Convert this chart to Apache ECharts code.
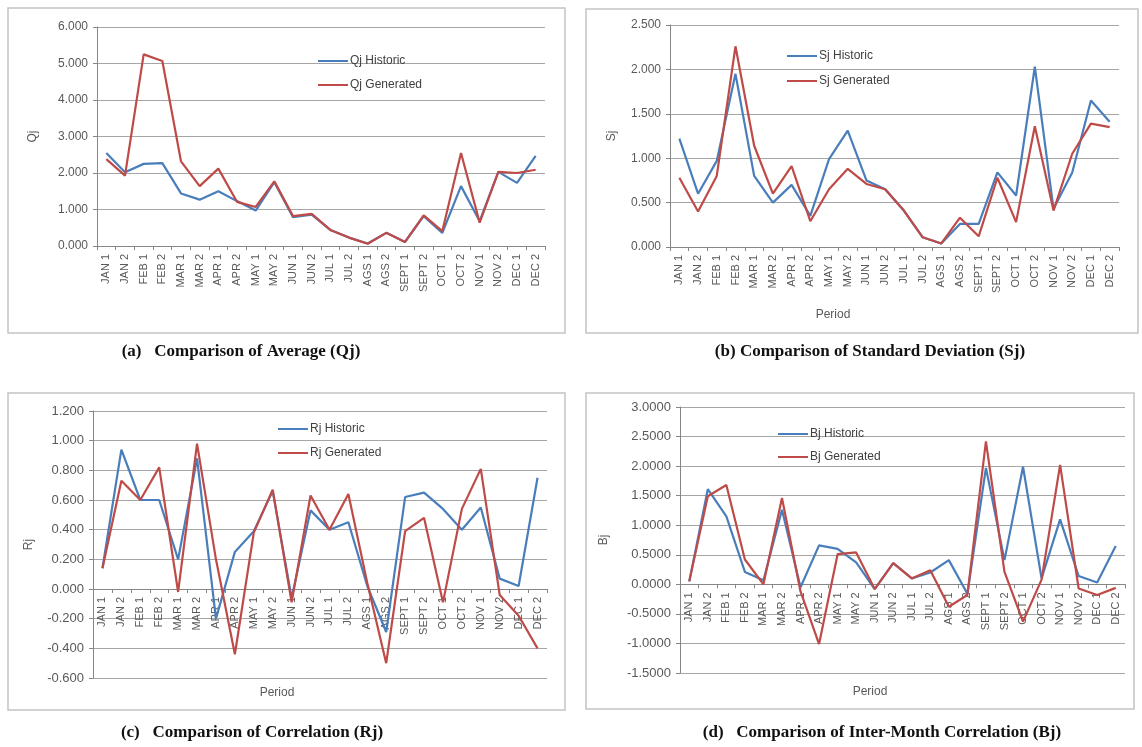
<!DOCTYPE html>
<html>
<head>
<meta charset="utf-8">
<title>Comparison of Qj, Sj, Rj, Bj</title>
<script src="https://cdn.jsdelivr.net/npm/echarts@6.0.0/dist/echarts.min.js"></script>
<style>
  html, body { margin: 0; padding: 0; background: #fff; }
  #chart { width: 1142px; height: 747px; }
</style>
</head>
<body>
<div id="chart"></div>
<script>
// half-month periods
const periods = ['JAN 1', 'JAN 2', 'FEB 1', 'FEB 2', 'MAR 1', 'MAR 2', 'APR 1', 'APR 2',
  'MAY 1', 'MAY 2', 'JUN 1', 'JUN 2', 'JUL 1', 'JUL 2', 'AGS 1', 'AGS 2',
  'SEPT 1', 'SEPT 2', 'OCT 1', 'OCT 2', 'NOV 1', 'NOV 2', 'DEC 1', 'DEC 2']

// (a) average
const qjHistoric = [2.55, 2.02, 2.25, 2.27, 1.44, 1.27, 1.50, 1.23, 0.97, 1.75, 0.79, 0.86,
  0.44, 0.23, 0.07, 0.36, 0.11, 0.82, 0.36, 1.64, 0.68, 2.03, 1.73, 2.47]
const qjGenerated = [2.38, 1.93, 5.25, 5.07, 2.32, 1.64, 2.12, 1.21, 1.07, 1.77, 0.82, 0.88,
  0.44, 0.23, 0.06, 0.36, 0.11, 0.84, 0.41, 2.55, 0.64, 2.03, 2.00, 2.09]

// (b) standard deviation
const sjHistoric = [1.22, 0.60, 0.97, 1.95, 0.80, 0.50, 0.70, 0.35, 0.99, 1.31, 0.75, 0.65,
  0.41, 0.11, 0.04, 0.26, 0.26, 0.84, 0.58, 2.03, 0.43, 0.84, 1.65, 1.41]
const sjGenerated = [0.78, 0.40, 0.80, 2.26, 1.14, 0.60, 0.91, 0.29, 0.65, 0.88, 0.71, 0.65,
  0.41, 0.11, 0.04, 0.33, 0.12, 0.78, 0.28, 1.36, 0.41, 1.05, 1.39, 1.35]

// (c) correlation
const rjHistoric = [0.14, 0.94, 0.60, 0.60, 0.20, 0.88, -0.20, 0.25, 0.39, 0.66, -0.06, 0.53,
  0.40, 0.45, 0.02, -0.29, 0.62, 0.65, 0.54, 0.40, 0.55, 0.07, 0.02, 0.75]
const rjGenerated = [0.14, 0.73, 0.60, 0.82, -0.02, 0.98, 0.20, -0.44, 0.38, 0.67, -0.09, 0.63,
  0.40, 0.64, 0.04, -0.50, 0.39, 0.48, -0.09, 0.54, 0.81, -0.04, -0.18, -0.40]

// (d) inter-month correlation
const bjHistoric = [0.05, 1.61, 1.15, 0.21, 0.07, 1.26, -0.05, 0.66, 0.60, 0.37, -0.08, 0.36,
  0.10, 0.20, 0.41, -0.16, 1.97, 0.41, 1.99, 0.10, 1.10, 0.14, 0.03, 0.65]
const bjGenerated = [0.05, 1.49, 1.68, 0.42, 0.00, 1.46, -0.12, -1.01, 0.51, 0.54, -0.08, 0.36,
  0.10, 0.24, -0.38, -0.18, 2.42, 0.21, -0.63, 0.08, 2.02, -0.07, -0.18, -0.06]

const blue = '#4A7EBB'
const red = '#BE4B48'
const textGrey = '#595959'

// layout of each panel
const panels = [
  { key: 'Qj', hist: qjHistoric, gen: qjGenerated, min: 0, max: 6, step: 1, dec: 3, font: 12,
    grid: { left: 97, top: 27, width: 448, height: 219 }, nameGap: 58,
    legend: { left: 313, top: 49, itemGap: 10 } },
  { key: 'Sj', hist: sjHistoric, gen: sjGenerated, min: 0, max: 2.5, step: 0.5, dec: 3, font: 12,
    grid: { left: 670, top: 25, width: 449, height: 222 }, nameGap: 52,
    legend: { left: 782, top: 44, itemGap: 11 } },
  { key: 'Rj', hist: rjHistoric, gen: rjGenerated, min: -0.6, max: 1.2, step: 0.2, dec: 3, font: 13,
    grid: { left: 93, top: 411, width: 454, height: 267 }, nameGap: 58,
    legend: { left: 273, top: 417, itemGap: 10 } },
  { key: 'Bj', hist: bjHistoric, gen: bjGenerated, min: -1.5, max: 3, step: 0.5, dec: 4, font: 13,
    grid: { left: 680, top: 407, width: 445, height: 266 }, nameGap: 70,
    legend: { left: 773, top: 422, itemGap: 9 } }
]

const myChart = echarts.init(document.getElementById('chart'))

const seriesData = []
panels.forEach((p, i) => {
  seriesData.push({
    name: p.key + ' Historic', type: 'line', xAxisIndex: i, yAxisIndex: i,
    symbol: 'none', color: blue, lineStyle: { width: 2.2, color: blue },
    data: p.hist, z: 2
  })
  seriesData.push({
    name: p.key + ' Generated', type: 'line', xAxisIndex: i, yAxisIndex: i,
    symbol: 'none', color: red, lineStyle: { width: 2.2, color: red },
    data: p.gen, z: 3
  })
})

// panel frames, captions and the "Period" labels
const frame = (x, y, w, h) => ({
  type: 'rect', silent: true, z: -10,
  shape: { x: x, y: y, width: w, height: h },
  style: { fill: '#fff', stroke: '#c4c4c4', lineWidth: 1.5 }
})
const caption = (x, y, text) => ({
  type: 'text', x: x, y: y, silent: true,
  style: { text: text, fill: '#111', font: 'bold 17px "Liberation Serif"', align: 'center', verticalAlign: 'middle' }
})
const periodLabel = (x, y) => ({
  type: 'text', x: x, y: y, silent: true,
  style: { text: 'Period', fill: textGrey, font: '12px "Liberation Sans"', align: 'center', verticalAlign: 'middle' }
})

const myOption = {
  backgroundColor: '#fff',
  animation: false,
  textStyle: { fontFamily: 'Liberation Sans' },

  grid: panels.map(p => Object.assign({ containLabel: false }, p.grid)),

  legend: panels.map(p => ({
    data: [p.key + ' Historic', p.key + ' Generated'],
    orient: 'vertical',
    left: p.legend.left,
    top: p.legend.top,
    itemGap: p.legend.itemGap,
    icon: 'rect',
    itemWidth: 30,
    itemHeight: 2,
    selectedMode: false,
    textStyle: { color: '#404040', fontSize: 12, lineHeight: 14, padding: [0, 0, 0, -3] }
  })),

  // the category axis sits on the zero line (labels too), like Excel does
  xAxis: panels.map((p, i) => ({
    type: 'category',
    gridIndex: i,
    data: periods,
    boundaryGap: true,
    offset: -p.grid.height * (0 - p.min) / (p.max - p.min),
    axisLine: { onZero: false, lineStyle: { color: '#868686', width: 1 } },
    axisTick: { show: true, length: 4, lineStyle: { color: '#868686' } },
    axisLabel: { interval: 0, rotate: 90, fontSize: 11, color: textGrey, margin: 8 },
    splitLine: { show: false }
  })),

  yAxis: panels.map((p, i) => ({
    type: 'value',
    gridIndex: i,
    min: p.min,
    max: p.max,
    interval: p.step,
    name: p.key,
    nameLocation: 'middle',
    nameRotate: 90,
    nameGap: p.nameGap,
    nameTextStyle: { color: textGrey, fontSize: 12 },
    axisLine: { show: true, lineStyle: { color: '#868686', width: 1 } },
    axisTick: { show: true, length: 4, lineStyle: { color: '#868686' } },
    axisLabel: {
      fontSize: p.font, color: textGrey, margin: 9,
      formatter: v => v.toFixed(p.dec)
    },
    splitLine: { lineStyle: { color: '#a6a6a6', width: 1 } }
  })),

  graphic: [
    frame(8, 8, 557, 325),
    frame(586, 9, 552, 324),
    frame(8, 393, 557, 317),
    frame(586, 393, 548, 316),
    caption(241, 352, '(a)   Comparison of Average (Qj)'),
    caption(870, 352, '(b) Comparison of Standard Deviation (Sj)'),
    caption(252, 733, '(c)   Comparison of Correlation (Rj)'),
    caption(882, 733, '(d)   Comparison of Inter-Month Correlation (Bj)'),
    periodLabel(833, 315),
    periodLabel(277, 693),
    periodLabel(870, 692)
  ],

  series: seriesData
}
myChart.setOption(myOption)
</script>
</body>
</html>
